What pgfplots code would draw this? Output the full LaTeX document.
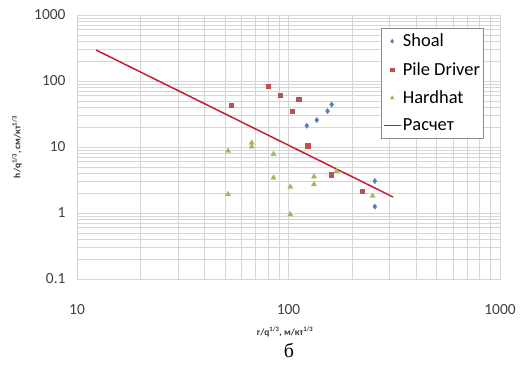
\documentclass[border=0pt]{standalone}
\usepackage{pgfplots}
\pgfplotsset{compat=1.18}
\usepackage{fontspec}
\setmainfont{Carlito}
\newfontfamily\seriffont{Liberation Serif}
\definecolor{shoal}{RGB}{79,129,189}
\definecolor{pile}{RGB}{192,80,77}
\definecolor{hard}{RGB}{155,187,89}
\definecolor{calcred}{RGB}{200,30,50}
\definecolor{gridc}{RGB}{214,214,214}
\begin{document}
\begin{tikzpicture}
\useasboundingbox (-77bp,-98bp) rectangle (449bp,279bp);
\begin{axis}[
  xmode=log, ymode=log, scale only axis, width=423bp, height=264bp,
  xmin=10, xmax=1000, ymin=0.1, ymax=1000,
  grid=both,
  major grid style={draw=gridc, line width=0.7pt},
  minor grid style={draw=gridc, line width=0.5pt},
  axis line style={draw=gridc, line width=0.8pt},
  tick style={draw=none},
  xtick={10,100,1000}, xticklabels={10,100,1000},
  ytick={0.1,1,10,100,1000}, yticklabels={0.1,1,10,100,1000},
  ticklabel style={font=\fontsize{15.5}{18}\selectfont, text=black!75},
  xticklabel style={yshift=-22bp},
  yticklabel style={xshift=-8bp},
  legend style={at={(axis description cs:0.718,0.951)}, anchor=north west,
    draw=black!45, fill=white, font=\fontsize{18.5}{21}\selectfont,
    inner xsep=2bp, inner ysep=5bp, row sep=12bp,
    nodes={inner xsep=1.5bp, inner ysep=1bp}},
  legend cell align=left,
  clip=false,
]
\addplot[only marks, mark=diamond*, mark size=2.6bp, color=shoal,
  legend image code/.code={\draw[mark size=2bp] plot coordinates {(0.3cm,0cm)};}] coordinates {
  (122,21) (136,25.6) (153,35) (160,44) (256,3.05) (256,1.25)
};
\addlegendentry{Shoal}
\addplot[only marks, mark=square*, mark size=2.3bp, color=pile,
  legend image code/.code={\draw[mark size=1.8bp] plot coordinates {(0.3cm,0cm)};}] coordinates {
  (53.5,42.8) (80,83) (91.5,61) (112,53) (104,34.8) (123,10.4) (159,3.8) (223,2.13)
};
\addlegendentry{Pile Driver}
\addplot[only marks, mark=triangle*, mark size=3bp, color=hard,
  legend image code/.code={\draw[mark size=2.2bp] plot coordinates {(0.3cm,0cm)};}] coordinates {
  (51.8,8.7) (67,11.6) (67,10.1) (85,7.8) (51.8,1.92) (85,3.43) (102,2.48)
  (132,3.55) (132,2.72) (169,4.3) (250,1.81) (102,0.95)
};
\addlegendentry{Hardhat}
\addplot[draw=calcred, line width=1.5pt, no marks, forget plot] coordinates {
  (12.3,295) (312,1.75)
};
\addlegendimage{draw=calcred, line width=1.5pt, no marks}
\addlegendentry{Расчет}
\node[rotate=90, font=\bfseries\fontsize{9.5}{11}\selectfont, text=black!80] at (axis description cs:-0.142,0.5)
  {h/q\textsuperscript{1/3}, см/кт\textsuperscript{1/3}};
\node[font=\bfseries\fontsize{9.5}{11}\selectfont, text=black!80] at (axis description cs:0.492,-0.2)
  {r/q\textsuperscript{1/3}, м/кт\textsuperscript{1/3}};
\node[font=\seriffont\fontsize{20}{24}\selectfont] at (axis description cs:0.501,-0.27) {б};
\end{axis}
\end{tikzpicture}
\end{document}
